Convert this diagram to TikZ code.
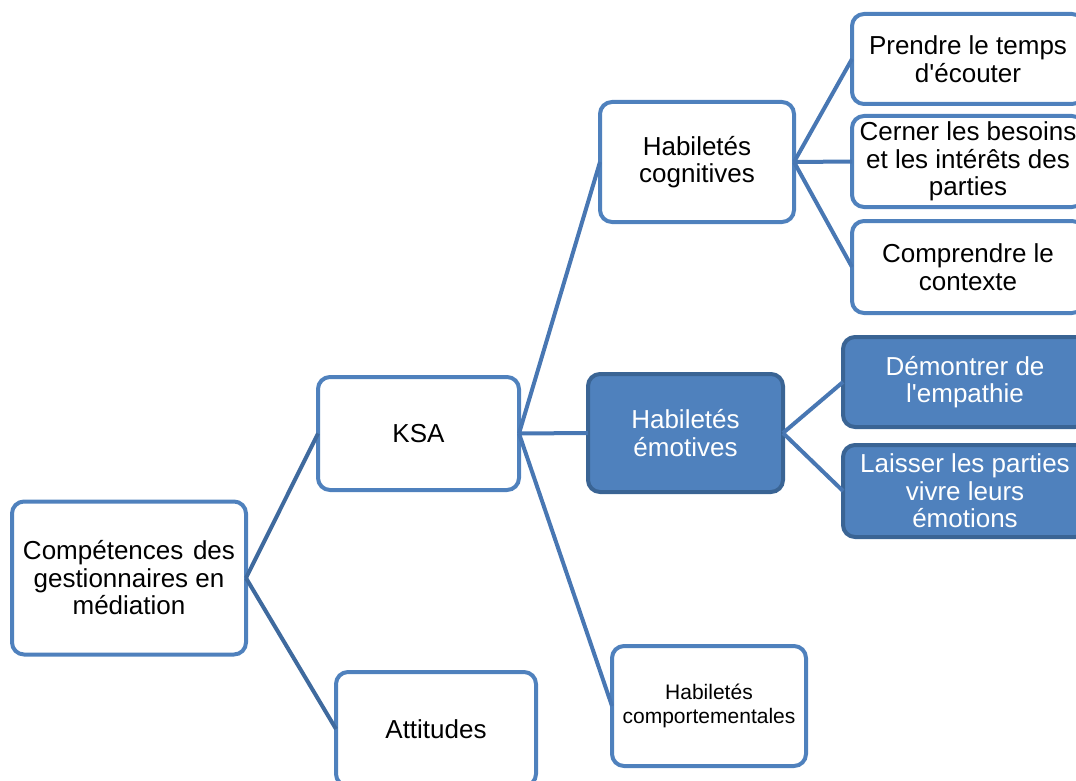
\documentclass[tikz,border=0pt]{standalone}
\usepackage{fontspec}
\setmainfont{Liberation Sans}[Ligatures=TeXOff]
\definecolor{boxblue}{HTML}{4F81BD}
\definecolor{boxdark}{HTML}{3A6494}
\definecolor{linkblue}{HTML}{4877B3}
\definecolor{linkdark}{HTML}{3F6A9E}
\tikzset{
  box/.style={draw=boxblue, line width=4pt, rounded corners=12pt, fill=white,
    inner sep=0pt, outer sep=0pt, align=center, text=black,
    font=\fontsize{26}{27.5}\selectfont},
  hot/.style={box, draw=boxdark, fill=boxblue, text=white},
  link/.style={draw=linkblue, line width=4pt},
  rootlink/.style={draw=linkdark, line width=4pt},
}
\begin{document}
\begin{tikzpicture}[x=1pt, y=-1pt]
\useasboundingbox (0,0) rectangle (1076,781);
\clip (0,0) rectangle (1076,781);

% level 0
\node[box, minimum width=234pt, minimum height=153pt] (comp) at (129,578)
  {\makebox[212pt][s]{Compétences\hfill des}\\gestionnaires en\\médiation};

% level 1
\node[box, minimum width=201pt, minimum height=113pt] (ksa) at (418.5,433.5) {KSA};
\node[box, minimum width=200pt, minimum height=114pt] (att) at (436,729) {Attitudes};

% level 2
\node[box, minimum width=194pt, minimum height=120pt] (hcog) at (697,162) {Habiletés\\cognitives};
\node[hot, minimum width=195pt, minimum height=118pt] (hemo) at (685.5,433) {Habiletés\\émotives};
\node[box, minimum width=194pt, minimum height=120pt,
  font=\fontsize{21}{24}\selectfont] (hcomp) at (709,706) {Habiletés\\comportementales};

% level 3
\node[box, minimum width=232pt, minimum height=90pt] (prendre) at (968,59) {Prendre le temps\\d'écouter};
\node[box, minimum width=232pt, minimum height=91pt] (cerner) at (968,161.5) {Cerner les besoins\\et les intérêts des\\parties};
\node[box, minimum width=232pt, minimum height=92pt] (compr) at (968,267) {Comprendre le\\contexte};
\node[hot, minimum width=244pt, minimum height=90pt] (demo) at (965,382) {Démontrer de\\l'empathie};
\node[hot, minimum width=244pt, minimum height=92pt] (laisser) at (965,491) {Laisser les parties\\vivre leurs\\émotions};

% connectors
\draw[rootlink] (comp.east) -- (ksa.west);
\draw[rootlink] (comp.east) -- (att.west);
\draw[link] (ksa.east) -- (hcog.west);
\draw[link] (ksa.east) -- (hemo.west);
\draw[link] (ksa.east) -- (hcomp.west);
\draw[link] (hcog.east) -- (prendre.west);
\draw[link] (hcog.east) -- (cerner.west);
\draw[link] (hcog.east) -- (compr.west);
\draw[link] (hemo.east) -- (demo.west);
\draw[link] (hemo.east) -- (laisser.west);
\end{tikzpicture}
\end{document}
